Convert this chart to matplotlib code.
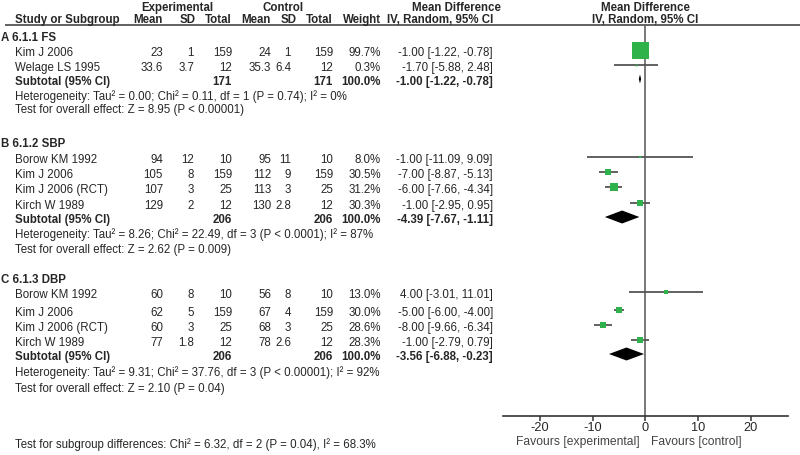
import matplotlib
matplotlib.use('Agg')
import matplotlib.pyplot as plt

plt.rcParams['font.family'] = ['Liberation Sans', 'DejaVu Sans']

# ---------------- data ----------------
group_labels = ['A 6.1.1 FS', 'B 6.1.2 SBP', 'C 6.1.3 DBP']

studies = [['Kim J 2006', 'Welage LS 1995'],
           ['Borow KM 1992', 'Kim J 2006', 'Kim J 2006 (RCT)', 'Kirch W 1989'],
           ['Borow KM 1992', 'Kim J 2006', 'Kim J 2006 (RCT)', 'Kirch W 1989']]
exp_mean = [[23, 33.6], [94, 105, 107, 129], [60, 62, 60, 77]]
exp_sd = [[1, 3.7], [12, 8, 3, 2], [8, 5, 3, 1.8]]
exp_n = [[159, 12], [10, 159, 25, 12], [10, 159, 25, 12]]
ctl_mean = [[24, 35.3], [95, 112, 113, 130], [56, 67, 68, 78]]
ctl_sd = [[1, 6.4], [11, 9, 3, 2.8], [8, 4, 3, 2.6]]
ctl_n = [[159, 12], [10, 159, 25, 12], [10, 159, 25, 12]]
weight = [[99.7, 0.3], [8.0, 30.5, 31.2, 30.3], [13.0, 30.0, 28.6, 28.3]]
md = [[-1.00, -1.70], [-1.00, -7.00, -6.00, -1.00], [4.00, -5.00, -8.00, -1.00]]
ci_lo = [[-1.22, -5.88], [-11.09, -8.87, -7.66, -2.95], [-3.01, -6.00, -9.66, -2.79]]
ci_hi = [[-0.78, 2.48], [9.09, -5.13, -4.34, 0.95], [11.01, -4.00, -6.34, 0.79]]

sub_exp_n = [171, 206, 206]
sub_ctl_n = [171, 206, 206]
sub_md = [-1.00, -4.39, -3.56]
sub_lo = [-1.22, -7.67, -6.88]
sub_hi = [-0.78, -1.11, -0.23]

heterogeneity = ['Heterogeneity: Tau\u00b2 = 0.00; Chi\u00b2 = 0.11, df = 1 (P = 0.74); I\u00b2 = 0%',
                 'Heterogeneity: Tau\u00b2 = 8.26; Chi\u00b2 = 22.49, df = 3 (P < 0.0001); I\u00b2 = 87%',
                 'Heterogeneity: Tau\u00b2 = 9.31; Chi\u00b2 = 37.76, df = 3 (P < 0.00001); I\u00b2 = 92%']
overall = ['Test for overall effect: Z = 8.95 (P < 0.00001)',
           'Test for overall effect: Z = 2.62 (P = 0.009)',
           'Test for overall effect: Z = 2.10 (P = 0.04)']
subgroup_test = 'Test for subgroup differences: Chi\u00b2 = 6.32, df = 2 (P = 0.04), I\u00b2 = 68.3%'

x_ticks = [-20, -10, 0, 10, 20]
favours_left = 'Favours [experimental]'
favours_right = 'Favours [control]'

# ---------------- layout (pixel rows) ----------------
W, H = 800, 455
group_y = [38, 144, 280]
study_y = [[53, 68], [160, 175, 190, 206], [295, 313, 328, 343]]
subtotal_y = [82, 220, 357]
het_y = [97, 235, 373]
test_y = [110, 250, 389]
subgroup_y = 445
mark_off = -3

col_x = {'name': 15, 'em': 163, 'esd': 194, 'en': 232, 'cm': 271, 'csd': 291,
         'cn': 333, 'w': 381, 'ci': 493}

FS = 8.3
TXT = '#262626'
GREEN = '#2fb24a'
LINE = '#555555'

fig = plt.figure(figsize=(W / 100, H / 100), dpi=100)
tax = fig.add_axes([0, 0, 1, 1])
tax.set_xlim(0, W)
tax.set_ylim(H, 0)
tax.axis('off')

def t(x, y, s, ha='left', bold=False, color=TXT, size=FS):
    tax.text(x, y, s, ha=ha, va='center', fontsize=size,
             fontweight='bold' if bold else 'normal', color=color)

# headers
t(177, 8, 'Experimental', ha='center', bold=True)
t(283, 8, 'Control', ha='center', bold=True)
t(456, 8, 'Mean Difference', ha='center', bold=True)
t(645, 8, 'Mean Difference', ha='center', bold=True)
hy = 20
t(col_x['name'], hy, 'Study or Subgroup', bold=True)
t(col_x['em'], hy, 'Mean', ha='right', bold=True)
t(196, hy, 'SD', ha='right', bold=True)
t(col_x['en'], hy, 'Total', ha='right', bold=True)
t(col_x['cm'], hy, 'Mean', ha='right', bold=True)
t(297, hy, 'SD', ha='right', bold=True)
t(col_x['cn'], hy, 'Total', ha='right', bold=True)
t(col_x['w'], hy, 'Weight', ha='right', bold=True)
t(col_x['ci'], hy, 'IV, Random, 95% CI', ha='right', bold=True)
t(645, hy, 'IV, Random, 95% CI', ha='center', bold=True)
tax.plot([5, W], [25, 25], color=LINE, lw=1.3, solid_capstyle='butt')

# forest axes
x_left, x_right = 503, 788
y_top, y_bot = 25, 416
fax = fig.add_axes([x_left / W, (H - y_bot) / H, (x_right - x_left) / W, (y_bot - y_top) / H])
fax.set_facecolor('none')
fax.set_xlim(-27, 27.1)
fax.set_ylim(y_bot, y_top)
for s in ['top', 'left', 'right']:
    fax.spines[s].set_visible(False)
fax.spines['bottom'].set_color('#333333')
fax.spines['bottom'].set_linewidth(1.2)
fax.set_yticks([])
fax.set_xticks(x_ticks)
fax.set_xticklabels([str(v) for v in x_ticks])
fax.tick_params(axis='x', direction='out', length=3.6, width=1.1, color='#333333',
                labelsize=9.2, labelcolor=TXT, pad=0.6)
fax.axvline(0, color=LINE, lw=1.1, zorder=1)

maxw = 99.7
for g in range(3):
    t(1, group_y[g], group_labels[g], bold=True)
    for i, name in enumerate(studies[g]):
        y = study_y[g][i]
        t(col_x['name'], y, name)
        t(col_x['em'], y, f'{exp_mean[g][i]:g}', ha='right')
        t(col_x['esd'], y, f'{exp_sd[g][i]:g}', ha='right')
        t(col_x['en'], y, f'{exp_n[g][i]:g}', ha='right')
        t(col_x['cm'], y, f'{ctl_mean[g][i]:g}', ha='right')
        t(col_x['csd'], y, f'{ctl_sd[g][i]:g}', ha='right')
        t(col_x['cn'], y, f'{ctl_n[g][i]:g}', ha='right')
        t(col_x['w'], y, f'{weight[g][i]:.1f}%', ha='right')
        t(col_x['ci'], y, f'{md[g][i]:.2f} [{ci_lo[g][i]:.2f}, {ci_hi[g][i]:.2f}]', ha='right')
        ym = y + mark_off
        fax.plot([ci_lo[g][i], ci_hi[g][i]], [ym, ym], color=LINE, lw=1.3, zorder=2,
                 solid_capstyle='butt')
        side_px = max(17 * (weight[g][i] / maxw) ** 0.75, 1.8)
        fax.plot([md[g][i]], [ym], marker='s', ls='none', ms=side_px * 0.72,
                 color=GREEN, mec=GREEN, mew=0, zorder=3)
    y = subtotal_y[g]
    t(col_x['name'], y, 'Subtotal (95% CI)', bold=True)
    t(col_x['en'], y, f'{sub_exp_n[g]}', ha='right', bold=True)
    t(col_x['cn'], y, f'{sub_ctl_n[g]}', ha='right', bold=True)
    t(col_x['w'], y, '100.0%', ha='right', bold=True)
    t(col_x['ci'], y, f'{sub_md[g]:.2f} [{sub_lo[g]:.2f}, {sub_hi[g]:.2f}]', ha='right', bold=True)
    ym = y + mark_off
    hh = 4.5 if g == 0 else 6.5
    fax.fill([sub_lo[g], sub_md[g], sub_hi[g], sub_md[g]], [ym, ym - hh, ym, ym + hh],
             color='black', lw=0, zorder=3)
    t(col_x['name'], het_y[g], heterogeneity[g])
    t(col_x['name'], test_y[g], overall[g])

t(15, subgroup_y, subgroup_test)
fax.text(-1, 442.5, favours_left, ha='right', va='center', fontsize=8.7,
         color='#444444', transform=fax.transData, clip_on=False)
fax.text(1, 442.5, favours_right, ha='left', va='center', fontsize=8.7,
         color='#444444', transform=fax.transData, clip_on=False)

fig.savefig('out.png', dpi=100, facecolor='white')
